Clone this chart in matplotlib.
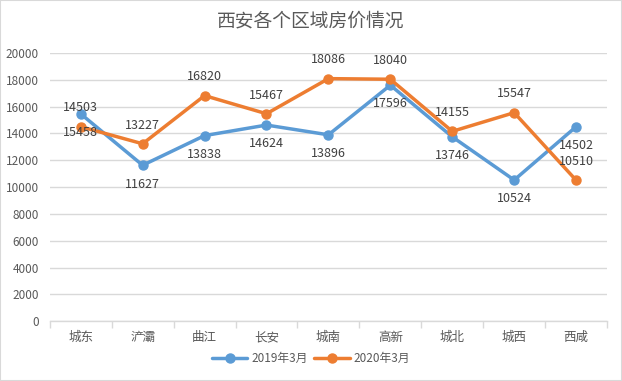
import numpy as np
import matplotlib
matplotlib.use("Agg")
from matplotlib import pyplot as plt
from matplotlib.patches import Rectangle

plt.rcParams['font.family'] = ['Noto Sans CJK SC', 'DejaVu Sans']

# data
districts = ['城东', '浐灞', '曲江', '长安', '城南', '高新', '城北', '城西', '西咸']
price_2019 = [15458, 11627, 13838, 14624, 13896, 17596, 13746, 10524, 14502]
price_2020 = [14503, 13227, 16820, 15467, 18086, 18040, 14155, 15547, 10510]
series_names = ['2019年3月', '2020年3月']
y_ticks = list(range(0, 20001, 2000))

blue = '#5B9BD5'
orange = '#ED7D31'
text_col = '#595959'

fig = plt.figure(figsize=(6.22, 3.81), dpi=100)
fig.patches.append(Rectangle((0, 0), 1, 1, transform=fig.transFigure,
                             fill=False, edgecolor='#d9d9d9', linewidth=1.5))
ax = fig.add_axes([0.080, 0.157, 0.896, 0.704])

x = np.arange(len(districts))
ax.plot(x, price_2019, color=blue, lw=2.5, marker='o', ms=6.5,
        label=series_names[0], zorder=3, solid_capstyle='round')
ax.plot(x, price_2020, color=orange, lw=2.5, marker='o', ms=6.5,
        label=series_names[1], zorder=3, solid_capstyle='round')

# data labels: blue below, orange above
for xi, v in zip(x, price_2019):
    ax.annotate(str(v), (xi, v), xytext=(0, -13.5), textcoords='offset points',
                ha='center', va='center', fontsize=9, color='#404040')
for xi, v in zip(x, price_2020):
    ax.annotate(str(v), (xi, v), xytext=(0, 13.5), textcoords='offset points',
                ha='center', va='center', fontsize=9, color='#404040')

ax.set_ylim(0, 20000)
ax.set_xlim(-0.5, len(districts) - 0.5)
ax.set_yticks(y_ticks)
ax.set_yticklabels([str(t) for t in y_ticks], fontsize=8.5, color=text_col)
ax.grid(axis='y', color='#d9d9d9', lw=1)
ax.set_axisbelow(True)

ax.set_xticks(x)
ax.set_xticklabels(districts, fontsize=9, color=text_col)
ax.set_xticks(np.arange(-0.5, len(districts)), minor=True)
ax.tick_params(axis='x', which='major', length=0, pad=7)
ax.tick_params(axis='x', which='minor', length=5, color='#d9d9d9', width=1)
ax.tick_params(axis='y', length=0, pad=8)

for s in ['top', 'right', 'left']:
    ax.spines[s].set_visible(False)
ax.spines['bottom'].set_color('#d9d9d9')
ax.spines['bottom'].set_linewidth(1)

fig.text(0.5, 0.945, '西安各个区域房价情况', ha='center', va='center',
         fontsize=13.5, color=text_col, fontweight='light')

fig.legend(loc='center', bbox_to_anchor=(0.5, 0.06), ncol=2, frameon=False,
           fontsize=8.5, labelcolor=text_col, handlelength=3,
           columnspacing=0.6, handletextpad=0.3)

plt.savefig('out.png', dpi=100)
